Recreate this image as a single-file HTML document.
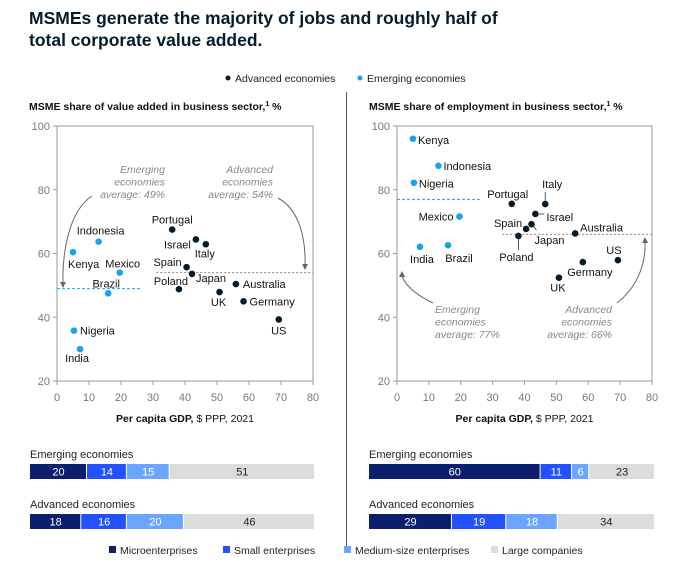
<!DOCTYPE html>
<html><head><meta charset="utf-8"><style>
html,body{margin:0;padding:0;background:#fff;}
body{width:682px;height:568px;overflow:hidden;font-family:"Liberation Sans",Arial,sans-serif;}
svg text{font-family:"Liberation Sans",Arial,sans-serif;}
</style></head><body>
<svg id="c" width="682" height="568" xmlns="http://www.w3.org/2000/svg">
<text x="29" y="24" font-size="17.5" font-weight="bold" fill="#051c2c">MSMEs generate the majority of jobs and roughly half of</text>
<text x="29" y="46" font-size="17.5" font-weight="bold" fill="#051c2c">total corporate value added.</text>
<g>
<circle cx="228" cy="78" r="2.5" fill="#051c2c"/><text x="235" y="82" font-size="10.5" fill="#222">Advanced economies</text>
<circle cx="360" cy="78" r="2.5" fill="#1aa3ec"/><text x="367" y="82" font-size="10.5" fill="#222">Emerging economies</text>
</g>
<text x="29" y="110" font-size="10.5" font-weight="bold" fill="#111">MSME share of value added in business sector,<tspan font-size="7" dy="-4">1</tspan><tspan dy="4"> %</tspan></text>
<text x="369" y="110" font-size="10.5" font-weight="bold" fill="#111">MSME share of employment in business sector,<tspan font-size="7" dy="-4">1</tspan><tspan dy="4"> %</tspan></text>
<line x1="346.5" y1="92" x2="346.5" y2="553" stroke="#555" stroke-width="1"/>
<g id="plots"></g>
<g id="bars"></g>
<g font-size="10.5" fill="#222">
<rect x="109" y="546" width="7" height="7" fill="#0b1f6e"/><text x="120" y="554">Microenterprises</text>
<rect x="223" y="546" width="7" height="7" fill="#2251ff"/><text x="234" y="554">Small enterprises</text>
<rect x="344" y="546" width="7" height="7" fill="#6aa6ff"/><text x="355" y="554">Medium-size enterprises</text>
<rect x="491" y="546" width="7" height="7" fill="#dcdcdc"/><text x="502" y="554">Large companies</text>
</g>
</svg>
<script>
const countries=["Kenya","Indonesia","Mexico","Brazil","Nigeria","India","Portugal","Israel","Italy","Spain","Japan","Poland","UK","Australia","Germany","US"];
const groups=["E","E","E","E","E","E","A","A","A","A","A","A","A","A","A","A"];
const gdp=[5,13,19.6,16,5.3,7.2,36,43.4,46.5,40.5,42.2,38.1,50.8,55.9,58.3,69.3];
const valueAdded=[60.4,63.7,54,47.5,35.8,30,67.5,64.4,62.9,55.7,53.6,48.8,47.9,50.4,45,39.3];
const employment=[96,87.5,71.6,62.6,82.2,62.1,75.6,72.4,75.5,67.7,69.2,65.5,52.4,66.3,57.3,57.9];
const xTicks=[0,10,20,30,40,50,60,70,80];
const yTicks=[20,40,60,80,100];
const vaAverages=[49,54];
const empAverages=[77,66];
const barCategories=["Emerging economies","Advanced economies"];
const valueBars=[[20,14,15,51],[18,16,20,46]];
const empBars=[[60,11,6,23],[29,19,18,34]];

const NS="http://www.w3.org/2000/svg";
function mk(tag,attrs,parent,txt){const e=document.createElementNS(NS,tag);for(const k in attrs)e.setAttribute(k,attrs[k]);if(txt!==undefined)e.textContent=txt;parent.appendChild(e);return e;}
const plots=document.getElementById('plots');
// label layout: [dx,dy,anchor]
const leftLab={Kenya:[-5,16,'start'],Indonesia:[2,-7,'middle'],Mexico:[3,-5,'middle'],Brazil:[-2,-6,'middle'],Nigeria:[6,4,'start'],India:[-3,13,'middle'],Portugal:[0,-6,'middle'],Israel:[-5,9,'end'],Italy:[-1,13,'middle'],Spain:[-5,-1,'end'],Japan:[4,8,'start'],Poland:[-8,-4,'middle'],UK:[-1,14,'middle'],Australia:[7,4,'start'],Germany:[6,4,'start'],US:[0,15,'middle']};
const rightLab={Kenya:[5,5,'start'],Indonesia:[5,4,'start'],Nigeria:[5,5,'start'],Mexico:[-6,4,'end'],India:[2,16,'middle'],Brazil:[11,17,'middle'],Portugal:[-4,-6,'middle'],Italy:[7,-16,'middle'],Israel:[11,7,'start'],Spain:[-4,-2,'end'],Japan:[3,20,'start'],Poland:[-2,25,'middle'],Australia:[5,-2,'start'],US:[-4,-6,'middle'],Germany:[7,14,'middle'],UK:[-1,14,'middle']};

function drawPlot(name,x0,x1,yvals,labs,avgs,annot){
  const g=mk('g',{},plots);
  
  
  const yTop=126,yBot=381;
  const sx=v=>x0+(v-0)/80*(x1-x0);
  const sy=v=>yBot-(v-20)/80*(yBot-yTop);
  const box=mk('rect',{x:x0,y:yTop,width:x1-x0,height:yBot-yTop,fill:'none',stroke:'#999','stroke-width':1},g);
  
  
  xTicks.forEach(t=>{
    mk('line',{x1:sx(t),x2:sx(t),y1:yBot,y2:yBot+4,stroke:'#999'},g);
    const tl=mk('text',{x:sx(t),y:yBot+20,'font-size':11,fill:'#777','text-anchor':'middle'},g,t);
    
    
  });
  yTicks.forEach(t=>{
    mk('line',{x1:x0-4,x2:x0,y1:sy(t),y2:sy(t),stroke:'#999'},g);
    const tl=mk('text',{x:x0-7,y:sy(t)+4,'font-size':11,fill:'#777','text-anchor':'end'},g,t);
    
    
  });
  const xt=mk('text',{x:(x0+x1)/2,y:yBot+41,'font-size':10.5,fill:'#111','text-anchor':'middle'},g);
  
  
  mk('tspan',{'font-weight':'bold'},xt,'Per capita GDP,');
  mk('tspan',{},xt,' $ PPP, 2021');
  // average lines
  const e=mk('line',{x1:sx(0),x2:sx(26),y1:sy(avgs[0]),y2:sy(avgs[0]),stroke:'#1aa3ec','stroke-dasharray':'3,2'},g);
  
  
  const a=mk('line',{x1:sx(annot.advStart),x2:sx(80),y1:sy(avgs[1]),y2:sy(avgs[1]),stroke:'#888','stroke-dasharray':'2,2'},g);
  
  
  annot.draw(g,sx,sy);
  countries.forEach((c,i)=>{
    const cx=sx(gdp[i]),cy=sy(yvals[i]);
    const l=labs[c];
    if(annot.leaders&&annot.leaders[c]){const p=annot.leaders[c];mk('line',{x1:cx,y1:cy,x2:cx+p[0],y2:cy+p[1],stroke:'#333','stroke-width':0.8},g);}
    const d=mk('circle',{cx:cx,cy:cy,r:3.3,fill:groups[i]==='E'?'#1aa3ec':'#051c2c'},g);
    
    
    const t=mk('text',{x:cx+l[0],y:cy+l[1],'font-size':11,fill:'#111','text-anchor':l[2]},g,c);
    
    
  });
}
function italic(g,x,y,anchor,lines,name){
  const t=mk('text',{x:x,y:y,'font-size':10.5,'font-style':'italic',fill:'#888','text-anchor':anchor},g);
  
  
  lines.forEach((s,i)=>mk('tspan',{x:x,dy:i?12.5:0},t,s));
}
const arrowDef=mk('defs',{},document.getElementById('c'));
const m=mk('marker',{id:'ah',markerWidth:6,markerHeight:6,refX:3,refY:3,orient:'auto'},arrowDef);
mk('path',{d:'M0,0 L6,3 L0,6 z',fill:'#666'},m);

drawPlot('value-added-chart',57,313,valueAdded,leftLab,vaAverages,{advStart:31,draw:(g,sx,sy)=>{
  italic(g,165,173,'end',['Emerging','economies','average: 49%'],'emerging-annotation');
  italic(g,273,173,'end',['Advanced','economies','average: 54%'],'advanced-annotation');
  mk('path',{d:'M92,196 C70,210 62,250 63,285',fill:'none',stroke:'#666','marker-end':'url(#ah)'},g);
  mk('path',{d:'M278,198 C300,210 306,240 305,267',fill:'none',stroke:'#666','marker-end':'url(#ah)'},g);
}});
drawPlot('employment-chart',397,652,employment,rightLab,empAverages,{advStart:33,leaders:{Italy:[0,-12],Israel:[9,0],Japan:[5,6],Poland:[0,14]},draw:(g,sx,sy)=>{
  italic(g,435,313,'start',['Emerging','economies','average: 77%'],'emerging-annotation');
  italic(g,612,313,'end',['Advanced','economies','average: 66%'],'advanced-annotation');
  mk('path',{d:'M433,303 C410,292 402,280 402,274',fill:'none',stroke:'#666','marker-end':'url(#ah)'},g);
  mk('path',{d:'M617,303 C640,285 646,260 645,240',fill:'none',stroke:'#666','marker-end':'url(#ah)'},g);
}});

const bars=document.getElementById('bars');
const segColors=['#0b1f6e','#2251ff','#6aa6ff','#dcdcdc'];
const segText=['#fff','#fff','#fff','#222'];
function drawBars(name,x0,x1,data){
  const g=mk('g',{},bars);
  
  
  data.forEach((row,r)=>{
    const yl=r?508:458, yb=r?514:464;
    const lab=mk('text',{x:x0,y:yl,'font-size':11,fill:'#222'},g,barCategories[r]);
    
    
    const tot=row.reduce((a,b)=>a+b,0);
    let cum=0;
    row.forEach((v,k)=>{
      const xa=x0+cum/tot*(x1-x0), w=v/tot*(x1-x0);
      const rc=mk('rect',{x:xa,y:yb,width:Math.max(w-1,0),height:15,fill:segColors[k]},g);
      
      
      const t=mk('text',{x:xa+w/2,y:yb+11.5,'font-size':11,fill:segText[k],'text-anchor':'middle'},g,v);
      
      
      cum+=v;
    });
  });
}
drawBars('value-added-bars',30,315,valueBars);
drawBars('employment-bars',369,655,empBars);
</script>
</body></html>
